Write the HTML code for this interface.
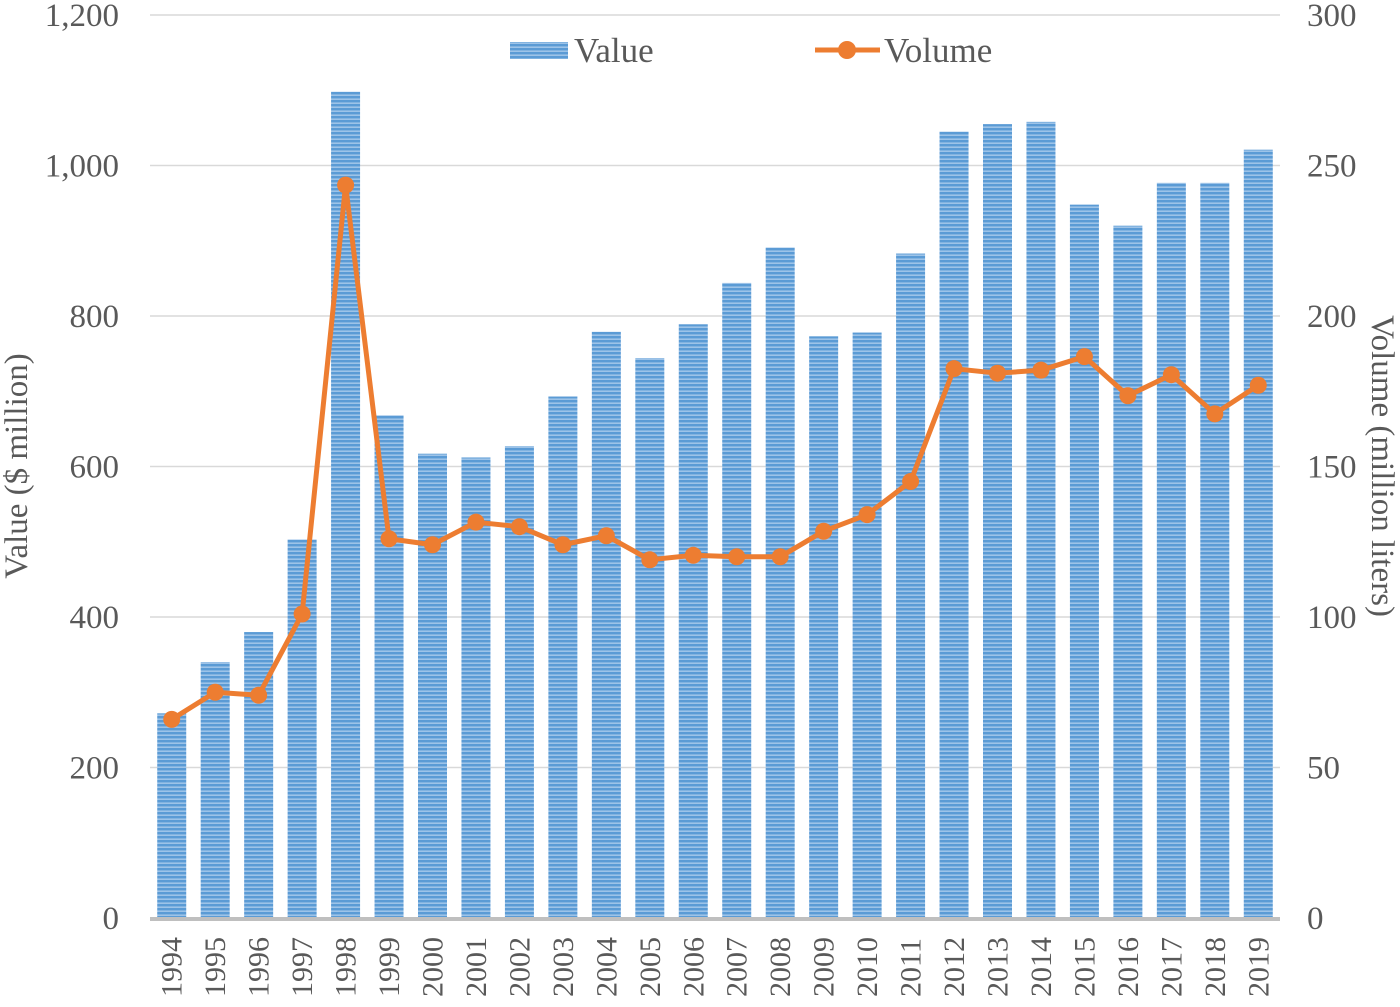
<!DOCTYPE html>
<html><head><meta charset="utf-8"><style>
body{margin:0;background:#fff}
svg text{font-family:"Liberation Serif",serif;fill:#595959}
</style></head><body>
<svg id="c" width="1400" height="1002">
<defs><pattern id="stripe" width="4" height="4" patternUnits="userSpaceOnUse">
<rect width="4" height="4" fill="#9dc3e8"/><rect width="4" height="2.4" fill="#5b9bd5"/></pattern></defs>
<g id="grid"></g><g id="bars"></g><g id="line"></g><g id="axes"></g>
<g>
<rect x="510" y="42" width="58" height="17" fill="url(#stripe)"/>
<text x="574" y="62" font-size="35">Value</text>
<line x1="815" y1="50" x2="880" y2="50" stroke="#ed7d31" stroke-width="5"/>
<circle cx="847" cy="50" r="9" fill="#ed7d31"/>
<text x="884" y="62" font-size="35">Volume</text>
</g>
<text transform="translate(27,466) rotate(-90)" text-anchor="middle" font-size="33">Value ($ million)</text>
<text transform="translate(1372,466) rotate(90)" text-anchor="middle" font-size="33">Volume (million liters)</text>
</svg>
<script>
const years=[1994,1995,1996,1997,1998,1999,2000,2001,2002,2003,2004,2005,2006,2007,2008,2009,2010,2011,2012,2013,2014,2015,2016,2017,2018,2019];
const values=[272,340,380,503,1098,668,617,612,627,693,779,744,789,844,891,773,778,883,1045,1055,1058,948,920,977,977,1021];
const volumes=[66,75,74,101,243.5,126,124,131.5,130,124,127,119,120.5,120,120,128.5,134,145,182.5,181,182,186.5,173.5,180.5,167.5,177];
const leftTicks=[0,200,400,600,800,1000,1200];
const leftTickLabels=["0","200","400","600","800","1,000","1,200"];
const rightTicks=[0,50,100,150,200,250,300];
const NS="http://www.w3.org/2000/svg";
const x0=150,x1=1280,yB=918,yT=15;
const step=(x1-x0)/years.length;
const xC=i=>x0+step*(i+0.5);
const yL=v=>yB-(v/1200)*(yB-yT);
const yR=v=>yB-(v/300)*(yB-yT);
function mk(t,a,p){const e=document.createElementNS(NS,t);for(const k in a)e.setAttribute(k,a[k]);p.appendChild(e);return e;}
const G=document.getElementById('grid'),B=document.getElementById('bars'),L=document.getElementById('line'),A=document.getElementById('axes');
leftTicks.forEach((v,i)=>{
 if(v>0){const g=mk('line',{x1:x0,x2:x1,y1:yL(v),y2:yL(v),stroke:'#d9d9d9','stroke-width':1.5},G);
 
 }
 const t=mk('text',{x:119,y:yL(v)+11,'text-anchor':'end','font-size':33},A);t.textContent=leftTickLabels[i];
 
 
});
rightTicks.forEach(v=>{
 const t=mk('text',{x:1307,y:yR(v)+11,'text-anchor':'start','font-size':33},A);t.textContent=v;
 
 
});
values.forEach((v,i)=>{
 const r=mk('rect',{x:xC(i)-14.5,y:yL(v),width:29,height:yB-yL(v),fill:'url(#stripe)'},B);
 
 
 const t=mk('text',{transform:`translate(${xC(i)+10},${997}) rotate(-90)`,'font-size':30},A);t.textContent=years[i];
 
 
});
const ax=mk('line',{x1:x0,x2:x1,y1:yB+1,y2:yB+1,stroke:'#bfbfbf','stroke-width':4},A);


const pl=mk('polyline',{points:volumes.map((v,i)=>xC(i)+','+yR(v)).join(' '),fill:'none',stroke:'#ed7d31','stroke-width':5,'stroke-linejoin':'round'},L);


volumes.forEach((v,i)=>{
 const c=mk('circle',{cx:xC(i),cy:yR(v),r:8.5,fill:'#ed7d31'},L);
 
 
});
</script>
</body></html>
